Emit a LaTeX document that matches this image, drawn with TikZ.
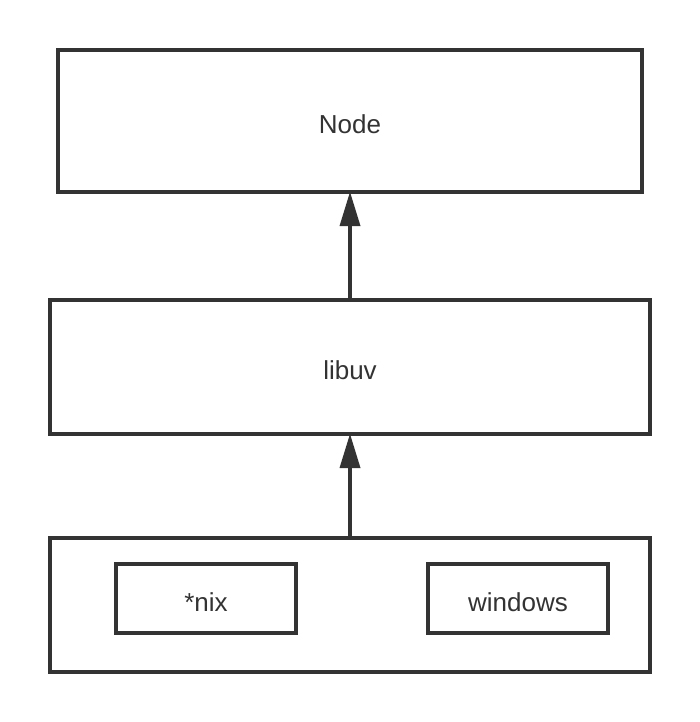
\documentclass[tikz,border=0pt]{standalone}
\usepackage{fontspec}
\setmainfont{Liberation Sans}
\usetikzlibrary{arrows.meta}
\definecolor{ink}{HTML}{333333}
\begin{document}
\begin{tikzpicture}[x=1pt,y=-1pt,
  box/.style={draw=ink,line width=4pt,rectangle,inner sep=0pt,outer sep=0pt,
    text=ink,text height=25pt,text depth=0pt,font=\fontsize{26}{30}\selectfont},
  uparrow/.style={draw=ink,line width=4.5pt,
    -{Triangle[length=34pt,width=21pt,line width=0pt,fill=ink]}}]
\useasboundingbox (0,0) rectangle (700,722);
\fill[white] (0,0) rectangle (700,722);
\node[box,minimum width=584pt,minimum height=142pt] (node) at (350,121) {Node};
\node[box,minimum width=600pt,minimum height=134pt] (libuv) at (350,367) {libuv};
\node[box,minimum width=600pt,minimum height=133.5pt] (os) at (350,604.75) {};
\node[box,minimum width=180pt,minimum height=69pt] (nix) at (206,598.5) {*nix};
\node[box,minimum width=180pt,minimum height=69pt] (win) at (518,598.5) {windows};
\draw[uparrow] (libuv.north) -- (node.south);
\draw[uparrow] (os.north) -- (libuv.south);
\end{tikzpicture}
\end{document}
